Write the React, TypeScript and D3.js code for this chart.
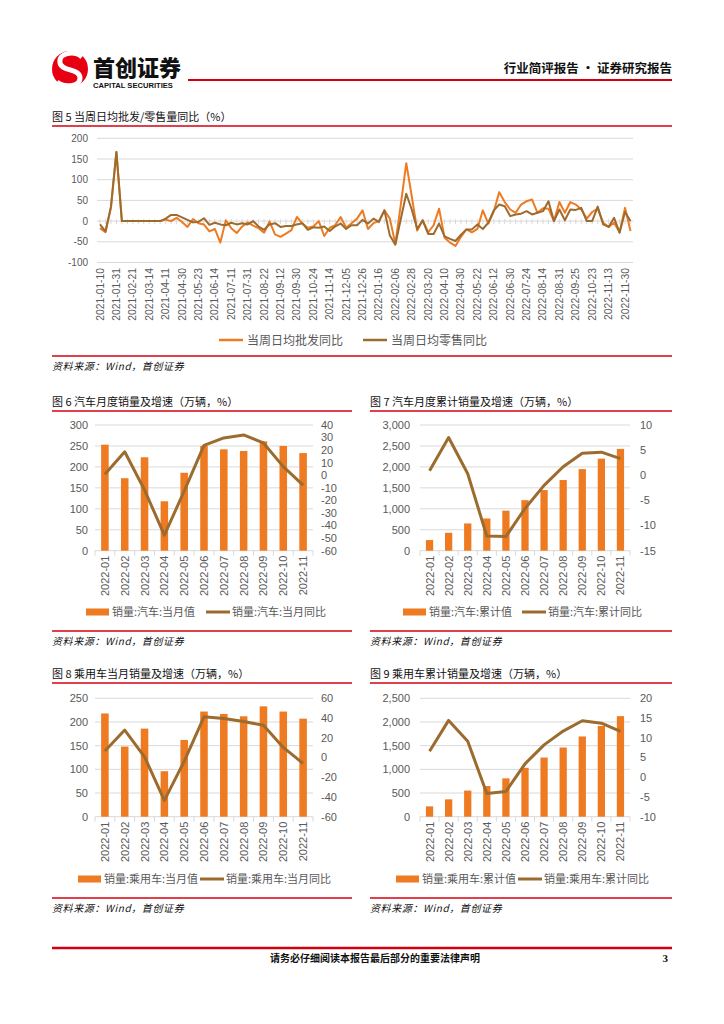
import React from 'react';
import * as d3 from 'd3';

// ---------- Figure 5 data (weekly) ----------
const weekDates = [
  '2021-01-10','2021-01-17','2021-01-24','2021-01-31','2021-02-07','2021-02-14','2021-02-21','2021-02-28','2021-03-07','2021-03-14',
  '2021-03-21','2021-03-31','2021-04-11','2021-04-18','2021-04-25','2021-04-30','2021-05-09','2021-05-16','2021-05-23','2021-05-31',
  '2021-06-06','2021-06-14','2021-06-20','2021-06-30','2021-07-11','2021-07-18','2021-07-25','2021-07-31','2021-08-08','2021-08-15',
  '2021-08-22','2021-08-31','2021-09-05','2021-09-12','2021-09-19','2021-09-26','2021-09-30','2021-10-10','2021-10-17','2021-10-24',
  '2021-10-31','2021-11-07','2021-11-14','2021-11-21','2021-11-28','2021-12-05','2021-12-12','2021-12-19','2021-12-26','2021-12-31',
  '2022-01-09','2022-01-16','2022-01-23','2022-01-31','2022-02-06','2022-02-13','2022-02-20','2022-02-28','2022-03-06','2022-03-13',
  '2022-03-20','2022-03-27','2022-03-31','2022-04-10','2022-04-17','2022-04-24','2022-04-30','2022-05-08','2022-05-15','2022-05-22',
  '2022-05-29','2022-05-31','2022-06-12','2022-06-19','2022-06-26','2022-06-30','2022-07-10','2022-07-17','2022-07-24','2022-07-31',
  '2022-08-07','2022-08-14','2022-08-21','2022-08-28','2022-08-31','2022-09-11','2022-09-18','2022-09-25','2022-09-30','2022-10-16',
  '2022-10-23','2022-10-31','2022-11-06','2022-11-13','2022-11-20','2022-11-27','2022-11-30','2022-12-04',
];
const wholesaleYoY = [
  -17, -27, 32, 167, 0, 0, 0, 0, 0, 0,
  0, 0, 4, 0, 8, -2, -14, 5, -5, -8,
  -25, -19, -52, 2, -17, -29, -13, -3, -11, -17,
  -28, -1, -32, -38, -30, -22, 10, -6, -16, -13,
  0, -36, -16, -10, 10, -16, -5, 6, 26, -19,
  -5, 0, 26, 6, -55, 40, 140, 60, -23, 2,
  -27, -10, 30, -40, -52, -60, -38, -20, -27, -19,
  26, -6, 23, 70, 46, 28, 20, 40, 48, 52,
  20, 31, 30, 0, 46, 20, 46, 40, 28, 6,
  22, 30, -4, -14, -4, -27, 32, -24,
];
const retailYoY = [
  -8, -25, 35, 167, 0, 0, 0, 0, 0, 0,
  0, 0, 6, 15, 15, 9, 3, -3, -2, 7,
  -9, -4, -8, -10, -4, -8, -5, -8, 0, -13,
  -21, -8, -5, -14, -12, -12, -8, -5, -21, -15,
  -16, -13, -24, -13, -6, -19, -10, -10, 3, -6,
  6, -2, 26, -35, -57, 5, 66, 28, -19, 2,
  -31, -31, -6, -37, -43, -48, -33, -20, -20, -8,
  -19, -4, 26, 40, 36, 12, 16, 18, 24, 16,
  20, 24, 48, 0, 28, 2, 28, 27, 32, 0,
  0, 35, -8, -14, 8, -28, 22, 0,
];
const fig5Ticks = [-100, -50, 0, 50, 100, 150, 200];
const fig5Series = ['当周日均批发同比', '当周日均零售同比'];

// ---------- Figures 6-9 data (monthly) ----------
const months = ['2022-01','2022-02','2022-03','2022-04','2022-05','2022-06','2022-07','2022-08','2022-09','2022-10','2022-11'];
const carMonthly = [253, 173, 223, 118, 186, 250, 242, 238, 261, 250, 233];
const carMonthlyYoY = [0.9, 18.7, -11.7, -47.6, -12.6, 23.8, 29.7, 32.1, 25.7, 6.9, -7.9];
const carCum = [253, 427, 651, 769, 955, 1206, 1447, 1686, 1947, 2197, 2430];
const carCumYoY = [0.9, 7.5, 0.3, -12.1, -12.2, -6.6, -2.0, 1.7, 4.4, 4.6, 3.3];
const pvMonthly = [218, 148, 186, 96, 162, 222, 217, 212, 233, 222, 207];
const pvMonthlyYoY = [6.6, 27.8, 0.7, -43.4, -3.9, 41.2, 39.6, 36.5, 32.6, 10.2, -6.0];
const pvCum = [218, 366, 552, 648, 810, 1032, 1249, 1461, 1694, 1916, 2123];
const pvCumYoY = [6.6, 14.4, 9.1, -4.1, -3.6, 3.4, 8.2, 11.7, 14.3, 13.7, 11.6];

const RED = '#D40010';
const ORANGE = '#EE7A22';
const BROWN = '#9C6B2E';
const GRID = '#D9D9D9';
const TXT = '#595959';
const SANS = "'Liberation Sans', Arial, sans-serif";
const CJK = "'Noto Sans CJK SC', 'Noto Sans', sans-serif";
const SOURCE = '资料来源：Wind，首创证券';

function Header() {
  return (
    <g>
      <circle cx={70} cy={69} r={18} fill="#E60012" />
      <path d="M82,57 C74,50 58,53 60,63 C62,72 80,68 80,78 C80,87 64,88 57,82" fill="none" stroke="#fff" strokeWidth={5} />
      <text x={93} y={76} fontFamily={CJK} fontWeight={900} fontSize={22} fill="#111">首创证券</text>
      <text x={93} y={88} fontFamily={SANS} fontWeight={700} fontSize={7.6} fill="#111">CAPITAL SECURITIES</text>
      <line x1={188} x2={672} y1={80} y2={80} stroke={RED} strokeWidth={2} />
      <text x={672} y={73} textAnchor="end" fontFamily={CJK} fontWeight={700} fontSize={12.5} fill="#111">行业简评报告 · 证券研究报告</text>
    </g>
  );
}

function Fig5() {
  const x = d3.scalePoint<string>().domain(weekDates).range([100, 630.5]);
  const y = d3.scaleLinear().domain([-100, 200]).range([262.5, 138.3]);
  const mk = (vals: number[]) =>
    d3.line<number>().x((_, i) => x(weekDates[i]) as number).y((d) => y(d))(vals) || '';
  const y0 = y(0);
  return (
    <g>
      <text x={52} y={121} fontFamily={CJK} fontSize={11} fill="#111">图 5 当周日均批发/零售量同比（%）</text>
      <line x1={52} x2={672} y1={126} y2={126} stroke={RED} strokeWidth={1.5} />
      {fig5Ticks.map((t) => (
        <g key={t}>
          <line x1={97} x2={633} y1={y(t)} y2={y(t)} stroke={GRID} strokeWidth={1} />
          <text x={88} y={y(t)} dy="0.35em" textAnchor="end" fontFamily={SANS} fontSize={10} fill={TXT}>{t}</text>
        </g>
      ))}
      {weekDates.map((d) => (
        <line key={d} x1={x(d)} x2={x(d)} y1={y0 - 2} y2={y0 + 3} stroke={GRID} strokeWidth={1} />
      ))}
      <path d={mk(wholesaleYoY)} fill="none" stroke={ORANGE} strokeWidth={2} strokeLinejoin="round" />
      <path d={mk(retailYoY)} fill="none" stroke={BROWN} strokeWidth={2} strokeLinejoin="round" />
      {weekDates.map((d, i) =>
        i % 3 === 0 ? (
          <text key={d} transform={`translate(${x(d)},268) rotate(-90)`} textAnchor="end" dominantBaseline="central" fontFamily={SANS} fontSize={10.3} fill={TXT}>{d}</text>
        ) : null
      )}
      <line x1={219} x2={243} y1={340} y2={340} stroke={ORANGE} strokeWidth={2.5} />
      <text x={247} y={344.5} fontFamily={CJK} fontSize={12} fill={TXT}>{fig5Series[0]}</text>
      <line x1={363} x2={387} y1={340} y2={340} stroke={BROWN} strokeWidth={2.5} />
      <text x={391} y={344.5} fontFamily={CJK} fontSize={12} fill={TXT}>{fig5Series[1]}</text>
      <line x1={52} x2={672} y1={356} y2={356} stroke={RED} strokeWidth={1.5} />
      <text x={52} y={370} fontFamily={CJK} fontStyle="italic" fontSize={10} letterSpacing={0.6} fill="#111">{SOURCE}</text>
    </g>
  );
}

type ComboProps = {
  title: string; rx0: number; rx1: number; titleY: number;
  x0: number; x1: number; top: number; bottom: number;
  leftX: number; rightX: number;
  bars: number[]; line: number[];
  leftMax: number; leftStep: number; rMin: number; rMax: number; rStep: number;
  comma: boolean; barLabel: string; lineLabel: string;
  legY: number; legBarX: number; legLineX: number; ruleY: number;
};

function Combo(p: ComboProps) {
  const x = d3.scaleBand<string>().domain(months).range([p.x0, p.x1]).paddingInner(0.62).paddingOuter(0.31);
  const yL = d3.scaleLinear().domain([0, p.leftMax]).range([p.bottom, p.top]);
  const yR = d3.scaleLinear().domain([p.rMin, p.rMax]).range([p.bottom, p.top]);
  const lt = d3.range(0, p.leftMax + 1e-6, p.leftStep);
  const rt = d3.range(p.rMin, p.rMax + 1e-6, p.rStep);
  const fmt = p.comma ? d3.format(',') : d3.format('d');
  const bw = x.bandwidth();
  const step = x.step();
  const path = d3.line<number>().x((_, i) => (x(months[i]) as number) + bw / 2).y((d) => yR(d))(p.line) || '';
  return (
    <g>
      <text x={p.rx0} y={p.titleY} fontFamily={CJK} fontSize={11} fontWeight={400} fill="#111">{p.title}</text>
      <line x1={p.rx0} x2={p.rx1} y1={p.titleY + 5} y2={p.titleY + 5} stroke={RED} strokeWidth={1.5} />
      {lt.map((t) => (
        <g key={t}>
          <line x1={p.x0} x2={p.x1} y1={yL(t)} y2={yL(t)} stroke={GRID} strokeWidth={1} />
          <text x={p.leftX} y={yL(t)} dy="0.35em" textAnchor="end" fontFamily={SANS} fontSize={11} fill={TXT}>{fmt(t)}</text>
        </g>
      ))}
      {rt.map((t) => (
        <text key={t} x={p.rightX} y={yR(t)} dy="0.35em" fontFamily={SANS} fontSize={11} fill={TXT}>{Math.round(t)}</text>
      ))}
      {d3.range(months.length + 1).map((k) => (
        <line key={k} x1={p.x0 + k * step} x2={p.x0 + k * step} y1={p.bottom} y2={p.bottom + 5} stroke={GRID} strokeWidth={1} />
      ))}
      {months.map((m, i) => (
        <rect key={m} x={x(m)} y={yL(p.bars[i])} width={bw} height={p.bottom - yL(p.bars[i])} fill={ORANGE} />
      ))}
      <path d={path} fill="none" stroke={BROWN} strokeWidth={3} strokeLinejoin="round" />
      {months.map((m) => (
        <text key={m} transform={`translate(${(x(m) as number) + bw / 2},${p.bottom + 5}) rotate(-90)`} textAnchor="end" dominantBaseline="central" fontFamily={SANS} fontSize={11} fill={TXT}>{m}</text>
      ))}
      <rect x={p.legBarX} y={p.legY - 3.5} width={23} height={7} fill={ORANGE} />
      <text x={p.legBarX + 26} y={p.legY} dy="0.38em" fontFamily={CJK} fontSize={11} fill={TXT}>{p.barLabel}</text>
      <line x1={p.legLineX} x2={p.legLineX + 24} y1={p.legY} y2={p.legY} stroke={BROWN} strokeWidth={3} />
      <text x={p.legLineX + 26} y={p.legY} dy="0.38em" fontFamily={CJK} fontSize={11} fill={TXT}>{p.lineLabel}</text>
      <line x1={p.rx0} x2={p.rx1} y1={p.ruleY} y2={p.ruleY} stroke={RED} strokeWidth={1.5} />
      <text x={p.rx0} y={p.ruleY + 14} fontFamily={CJK} fontStyle="italic" fontSize={10} letterSpacing={0.6} fill="#111">{SOURCE}</text>
    </g>
  );
}

export default function App() {
  const L = { rx0: 52, rx1: 352, x0: 95, x1: 313, leftX: 88, rightX: 321 };
  const R = { rx0: 370, rx1: 672, x0: 420, x1: 630, leftX: 410, rightX: 640 };
  const T1 = { titleY: 406, top: 425, bottom: 550.7, legY: 612, ruleY: 631 };
  const T2 = { titleY: 678, top: 698.3, bottom: 816.7, legY: 879, ruleY: 898 };
  return (
    <svg width={724} height={1024} viewBox="0 0 724 1024" style={{ position: 'absolute', left: 0, top: 0, background: '#fff' }}>
      <rect width={724} height={1024} fill="#fff" />
      <Header />
      <Fig5 />
      <Combo title="图 6 汽车月度销量及增速（万辆，%）" {...L} {...T1} bars={carMonthly} line={carMonthlyYoY}
        leftMax={300} leftStep={50} rMin={-60} rMax={40} rStep={10} comma={false}
        barLabel="销量:汽车:当月值" lineLabel="销量:汽车:当月同比" legBarX={86} legLineX={206} />
      <Combo title="图 7 汽车月度累计销量及增速（万辆，%）" {...R} {...T1} bars={carCum} line={carCumYoY}
        leftMax={3000} leftStep={500} rMin={-15} rMax={10} rStep={5} comma={true}
        barLabel="销量:汽车:累计值" lineLabel="销量:汽车:累计同比" legBarX={403} legLineX={522} />
      <Combo title="图 8 乘用车当月销量及增速（万辆，%）" {...L} {...T2} bars={pvMonthly} line={pvMonthlyYoY}
        leftMax={250} leftStep={50} rMin={-60} rMax={60} rStep={20} comma={false}
        barLabel="销量:乘用车:当月值" lineLabel="销量:乘用车:当月同比" legBarX={78} legLineX={200} />
      <Combo title="图 9 乘用车累计销量及增速（万辆，%）" {...R} {...T2} bars={pvCum} line={pvCumYoY}
        leftMax={2500} leftStep={500} rMin={-10} rMax={20} rStep={5} comma={true}
        barLabel="销量:乘用车:累计值" lineLabel="销量:乘用车:累计同比" legBarX={396} legLineX={518} />
      <line x1={52} x2={672} y1={948} y2={948} stroke={RED} strokeWidth={2.5} />
      <text x={375} y={962} textAnchor="middle" fontFamily={CJK} fontWeight={700} fontSize={10} fill="#111">请务必仔细阅读本报告最后部分的重要法律声明</text>
      <text x={668} y={962} textAnchor="end" fontFamily="'Liberation Serif', serif" fontWeight={700} fontSize={11} fill="#111">3</text>
    </svg>
  );
}
